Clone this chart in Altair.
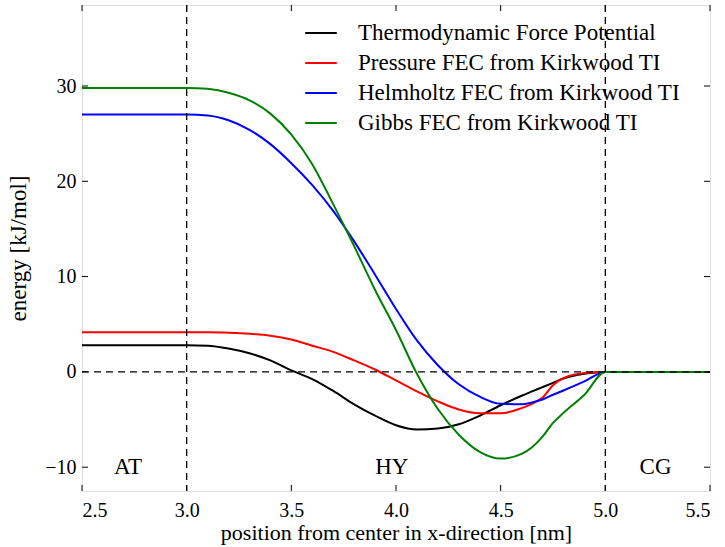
import altair as alt
import pandas as pd

# ---- data ----
x_vals = [2.5, 3.0, 3.1, 3.2, 3.3, 3.4, 3.5, 3.6, 3.7, 3.8, 3.9, 4.0, 4.1, 4.2,
          4.3, 4.4, 4.5, 4.6, 4.65, 4.7, 4.75, 4.8, 4.9, 5.0, 5.5]

tfp = [2.8, 2.8, 2.75, 2.45, 1.95, 1.2, 0.15, -0.75, -2.0, -3.4, -4.6, -5.6, -6.05, -5.95,
       -5.5, -4.6, -3.5, -2.5, -2.05, -1.6, -1.15, -0.7, -0.2, 0.0, 0.0]
pressure = [4.15, 4.15, 4.15, 4.1, 4.0, 3.8, 3.4, 2.75, 2.1, 1.2, 0.25, -0.9, -2.05, -3.1,
            -3.95, -4.35, -4.35, -3.8, -3.35, -2.7, -1.4, -0.65, -0.12, 0.0, 0.0]
helmholtz = [27.0, 27.0, 26.9, 26.4, 25.4, 23.9, 21.9, 19.6, 16.9, 13.7, 10.2, 6.6, 3.3, 0.7,
             -1.3, -2.6, -3.35, -3.4, -3.2, -2.9, -2.4, -1.95, -1.0, 0.0, 0.0]
gibbs = [29.8, 29.8, 29.7, 29.3, 28.5, 27.1, 24.9, 21.8, 17.6, 13.2, 8.6, 4.4, -0.2, -3.9,
         -6.6, -8.4, -9.1, -8.6, -7.9, -6.8, -5.35, -4.3, -2.4, 0.0, 0.0]

series_names = ["Thermodynamic Force Potential", "Pressure FEC from Kirkwood TI",
                "Helmholtz FEC from Kirkwood TI", "Gibbs FEC from Kirkwood TI"]
series_colors = ["#000000", "#ff0000", "#0000ff", "#008000"]
series_values = [tfp, pressure, helmholtz, gibbs]

x_ticks = [2.5, 3.0, 3.5, 4.0, 4.5, 5.0, 5.5]
y_ticks = [-10, 0, 10, 20, 30]
region_labels = ["AT", "HY", "CG"]
region_x = [2.72, 3.98, 5.24]
region_y = [-10, -10, -10]
boundary_x = [3.0, 5.0]
zero_y = [0]

X_DOM = [2.5, 5.5]
Y_DOM = [-12.5, 38.5]
W, H = 628, 486
FONT = "Liberation Serif"

rows = []
for name, vals in zip(series_names, series_values):
    for xv, yv in zip(x_vals, vals):
        rows.append({"series": name, "x": xv, "y": yv, "order": series_names.index(name)})
df = pd.DataFrame(rows)

xs = alt.Scale(domain=X_DOM, nice=False, zero=False)
ys = alt.Scale(domain=Y_DOM, nice=False, zero=False)

lines = alt.Chart(df).mark_line(strokeWidth=2, interpolate="monotone", clip=True).encode(
    x=alt.X("x:Q", scale=xs, axis=alt.Axis(values=x_ticks, format=".1f", ticks=False, domain=False,
                                            grid=False, labelFont=FONT, labelFontSize=20,
                                            labelPadding=9, labelColor="black",
                                            title="position from center in x-direction [nm]",
                                            titleFont=FONT, titleFontSize=22, titleFontWeight="normal",
                                            titleColor="black", titlePadding=2)),
    y=alt.Y("y:Q", scale=ys, axis=alt.Axis(values=y_ticks, format="d", ticks=False, domain=False,
                                            grid=False, labelFont=FONT, labelFontSize=20,
                                            labelPadding=6, labelColor="black",
                                            title="energy [kJ/mol]",
                                            titleFont=FONT, titleFontSize=23, titleFontWeight="normal",
                                            titleColor="black", titlePadding=14)),
    color=alt.Color("series:N", scale=alt.Scale(domain=series_names, range=series_colors),
                    legend=alt.Legend(title=None, orient="none", legendX=222, legendY=11,
                                      symbolType="stroke", symbolStrokeWidth=2, symbolSize=1000,
                                      labelFont=FONT, labelFontSize=23, labelColor="black",
                                      labelOffset=20, rowPadding=1, padding=0,
                                      labelLimit=400)),
    order="order:Q",
    detail="series:N",
)

vdf = pd.DataFrame({"x": boundary_x})
vlines = alt.Chart(vdf).mark_rule(color="black", strokeWidth=1.3, strokeDash=[7, 5]).encode(
    x=alt.X("x:Q", scale=xs), y=alt.value(0), y2=alt.value(H))
hdf = pd.DataFrame({"y": zero_y})
hline = alt.Chart(hdf).mark_rule(color="black", strokeWidth=1.3, strokeDash=[7, 5]).encode(
    y=alt.Y("y:Q", scale=ys), x=alt.value(0), x2=alt.value(W))

tdf = pd.DataFrame({"label": region_labels, "x": region_x, "y": region_y})
texts = alt.Chart(tdf).mark_text(font=FONT, fontSize=23, color="black", baseline="middle",
                                 align="center").encode(
    x=alt.X("x:Q", scale=xs), y=alt.Y("y:Q", scale=ys), text="label:N")

xt = pd.DataFrame({"x": x_ticks})
yt = pd.DataFrame({"y": y_ticks})
tick_len = 6
bt = alt.Chart(xt).mark_rule(color="black", strokeWidth=1).encode(
    x=alt.X("x:Q", scale=xs), y=alt.value(H), y2=alt.value(H - tick_len))
tt = alt.Chart(xt).mark_rule(color="black", strokeWidth=1).encode(
    x=alt.X("x:Q", scale=xs), y=alt.value(0), y2=alt.value(tick_len))
lt = alt.Chart(yt).mark_rule(color="black", strokeWidth=1).encode(
    y=alt.Y("y:Q", scale=ys), x=alt.value(0), x2=alt.value(tick_len))
rt = alt.Chart(yt).mark_rule(color="black", strokeWidth=1).encode(
    y=alt.Y("y:Q", scale=ys), x=alt.value(W), x2=alt.value(W - tick_len))

chart = alt.layer(lines, vlines, hline, texts, bt, tt, lt, rt).properties(
    width=W, height=H,
    autosize=alt.AutoSizeParams(type="none"),
    padding={"left": 82, "top": 5, "right": 15, "bottom": 56},
).configure_view(stroke="black", strokeWidth=1.2).configure(background="white")

chart.save("out.html", embed_options={"renderer": "svg", "actions": False})
